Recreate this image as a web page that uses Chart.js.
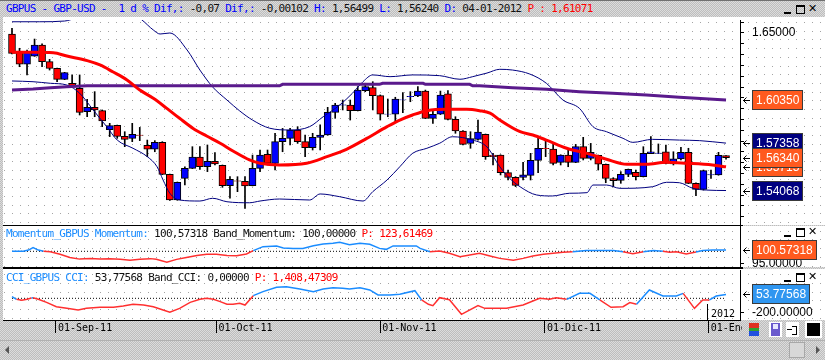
<!DOCTYPE html>
<html>
<head>
<meta charset="utf-8">
<title>GBPUS - GBP-USD</title>
<script src="https://cdn.jsdelivr.net/npm/chart.js@4.4.1/dist/chart.umd.min.js"></script>
<style>
  html, body { margin: 0; padding: 0; }
  body {
    width: 825px; height: 360px; position: relative; overflow: hidden;
    background: repeating-conic-gradient(#bdbdbd 0% 25%, #dcdcdc 0% 50%) 0 0 / 2px 2px;
    font-family: "DejaVu Sans Mono", monospace;
  }
  .abs { position: absolute; }
  canvas { position: absolute; left: 0; }
  .txt { position: absolute; left: 6px; white-space: pre; font-size: 11px; letter-spacing: -0.7px; line-height: 13px; }
  #titulo { left: 0; top: 0; width: 825px; height: 16px; border-top: 1px solid #707070; }
  .az { color: #0000ff; } .ng { color: #111; } .rj { color: #ff0000; }
  .az2 { color: #1a8cff; }
  .sep { position: absolute; left: 3px; width: 740px; background: #000; }
  .btns { position: absolute; left: 783px; width: 36px; height: 11px; }
  .btns i { position: absolute; font-style: normal; }
  .bmin { left: 1px; top: 7px; width: 7px; height: 2px; background: #000; }
  .bmax { left: 13px; top: 0px; width: 7px; height: 6px; border: 1px solid #000; border-top-width: 2px; }
  .bcer { left: 25px; top: -3px; font: 11px "DejaVu Sans", sans-serif; color: #000; }
  .gris { background: #c4c4c4; }
  #anio { left: 707px; top: 304px; height: 16px; border-left: 1px solid #000; font: 10px "DejaVu Sans Mono", monospace; line-height: 20px; padding-left: 3px; color: #000; }
  #iconos { left: 742px; top: 320px; width: 83px; height: 20px; background: repeating-conic-gradient(#bdbdbd 0% 25%, #dcdcdc 0% 50%) 0 0 / 2px 2px; }
  #iconos div { position: absolute; }
  #scroll { left: 0; top: 340px; width: 825px; height: 18px; border-top: 1px solid #b0b0b0; }
</style>
</head>
<body>

<div id="titulo" class="abs">
  <div class="txt" style="top:1px"><span class="az">GBPUS - GBP-USD -  1 d % Dif,:</span> <span class="ng">-0,07</span> <span class="az">Dif,:</span> <span class="ng">-0,00102</span> <span class="az">H:</span> <span class="ng">1,56499</span> <span class="az">L:</span> <span class="ng">1,56240</span> <span class="az">D:</span> <span class="ng">04-01-2012</span> <span class="rj">P : 1,61071</span></div>
  <div class="btns" style="top:4px"><i class="bmin"></i><i class="bmax"></i><i class="bcer">✕</i></div>
</div>

<canvas id="graficoPrecio" width="825" height="208" style="top:17px"></canvas>
<div class="sep" style="top:225px;height:1px"></div>
<canvas id="graficoMomentum" width="825" height="41" style="top:226px"></canvas>
<div class="sep" style="top:267px;height:2px"></div>
<canvas id="graficoCci" width="825" height="71" style="top:269px"></canvas>

<div class="txt" style="top:227px"><span class="az2">Momentum_GBPUS Momentum:</span> <span class="ng">100,57318 Band_Momentum: 100,00000</span> <span class="rj">P: 123,61469</span></div>
<div class="btns" style="top:228px"><i class="bmin"></i><i class="bmax"></i><i class="bcer">✕</i></div>
<div class="txt" style="top:271px"><span class="az2">CCI_GBPUS CCI:</span> <span class="ng">53,77568 Band_CCI: 0,00000</span> <span class="rj">P: 1,408,47309</span></div>
<div class="btns" style="top:273px"><i class="bmin"></i><i class="bmax"></i><i class="bcer">✕</i></div>
<div id="anio" class="abs">2012</div>

<div id="iconos" class="abs">
  <div style="left:7px;top:3px;width:10px;height:13px;background:linear-gradient(180deg,#e03020 0 35%,#30a030 35% 65%,#2050e0 65%)"></div>
  <div style="left:27px;top:2px;width:13px;height:15px;background:#fff"></div>
  <div style="left:29px;top:3px;width:9px;height:13px;background:#6a5acd"></div>
  <div style="left:31px;top:4px;width:5px;height:5px;background:#e8e8ff"></div>
  <div style="left:44px;top:2px;width:13px;height:15px;background:#fff"></div>
  <div style="left:45px;top:9px;width:5px;height:1px;background:#000"></div>
  <div style="left:50px;top:6px;width:4px;height:7px;border:1px solid #000;border-left:none"></div>
  <div style="left:63px;top:1px;width:17px;height:17px;background:#fff"></div>
  <div style="left:65px;top:3px;width:13px;height:13px;background:#000"></div>
</div>

<div id="scroll" class="abs">
  <div class="abs" style="left:5px;top:5px;width:0;height:0;border-top:4px solid transparent;border-bottom:4px solid transparent;border-right:4px solid #555"></div>
  <div class="abs" style="left:789px;top:1px;width:14px;height:14px;background:#d8d8d8;border:1px solid #a8a8a8"></div>
  <div class="abs" style="left:816px;top:5px;width:0;height:0;border-top:4px solid transparent;border-bottom:4px solid transparent;border-left:4px solid #555"></div>
</div>

<script>
// velas diarias GBP/USD, 24-ago-2011 .. 04-ene-2012
const apertura = [1.6493,1.6366,1.6283,1.6340,1.6417,1.6301,1.6255,1.6178,1.6151,1.6116,
  1.5954,1.5984,1.5961,1.5829,1.5859,1.5783,1.5769,1.5792,1.5720,1.5693,
  1.5741,1.5519,1.5341,1.5491,1.5561,1.5639,1.5572,1.5609,1.5582,1.5441,
  1.5474,1.5471,1.5441,1.5561,1.5658,1.5595,1.5746,1.5769,1.5827,1.5746,
  1.5704,1.5776,1.5792,1.5949,1.6000,1.6000,1.5961,1.6100,1.6121,1.6065,
  1.5936,1.5936,1.6035,1.6058,1.6063,1.6097,1.5908,1.5936,1.6077,1.5901,
  1.5820,1.5734,1.5762,1.5797,1.5653,1.5653,1.5531,1.5498,1.5498,1.5512,
  1.5616,1.5700,1.5695,1.5602,1.5653,1.5602,1.5711,1.5630,1.5651,1.5589,
  1.5489,1.5477,1.5519,1.5533,1.5503,1.5663,1.5665,1.5676,1.5591,1.5626,
  1.5672,1.5457,1.5415,1.5515,1.5515,1.5650];
const maximo = [1.6532,1.6394,1.6382,1.6458,1.6424,1.6317,1.6257,1.6227,1.6209,1.6209,
  1.6040,1.6093,1.5966,1.5873,1.5861,1.5815,1.5873,1.5845,1.5757,1.5753,
  1.5746,1.5521,1.5466,1.5572,1.5711,1.5711,1.5723,1.5670,1.5584,1.5503,
  1.5503,1.5503,1.5653,1.5688,1.5688,1.5804,1.5838,1.5838,1.5850,1.5792,
  1.5804,1.5862,1.5984,1.6012,1.6035,1.6035,1.6128,1.6151,1.6162,1.6070,
  1.6042,1.6054,1.6086,1.6093,1.6128,1.6104,1.5966,1.6097,1.6100,1.5919,
  1.5822,1.5815,1.5896,1.5799,1.5665,1.5655,1.5549,1.5503,1.5602,1.5665,
  1.5781,1.5757,1.5734,1.5655,1.5688,1.5727,1.5776,1.5734,1.5653,1.5591,
  1.5496,1.5538,1.5556,1.5549,1.5711,1.5781,1.5730,1.5723,1.5676,1.5707,
  1.5700,1.5461,1.5549,1.5549,1.5672,1.5650];
const minimo = [1.6354,1.6266,1.6209,1.6338,1.6266,1.6243,1.6162,1.6176,1.6126,1.5931,
  1.5919,1.5919,1.5850,1.5781,1.5769,1.5711,1.5746,1.5753,1.5642,1.5676,
  1.5517,1.5339,1.5339,1.5445,1.5559,1.5554,1.5538,1.5584,1.5429,1.5353,
  1.5399,1.5283,1.5439,1.5538,1.5584,1.5549,1.5676,1.5723,1.5734,1.5642,
  1.5688,1.5688,1.5790,1.5908,1.5966,1.5896,1.5959,1.6093,1.5966,1.5896,
  1.5919,1.5885,1.5947,1.6023,1.6058,1.5906,1.5873,1.5934,1.5896,1.5804,
  1.5723,1.5700,1.5757,1.5623,1.5584,1.5515,1.5480,1.5434,1.5480,1.5480,
  1.5531,1.5642,1.5584,1.5584,1.5572,1.5600,1.5619,1.5619,1.5549,1.5461,
  1.5434,1.5457,1.5503,1.5480,1.5501,1.5663,1.5663,1.5591,1.5584,1.5619,
  1.5455,1.5371,1.5410,1.5491,1.5513,1.5624];
const cierre = [1.6359,1.6283,1.6370,1.6417,1.6301,1.6255,1.6178,1.6225,1.6128,1.5949,
  1.5984,1.5966,1.5889,1.5857,1.5783,1.5762,1.5797,1.5790,1.5693,1.5741,
  1.5519,1.5341,1.5464,1.5561,1.5639,1.5572,1.5609,1.5591,1.5441,1.5485,
  1.5472,1.5438,1.5561,1.5653,1.5595,1.5746,1.5769,1.5827,1.5746,1.5704,
  1.5776,1.5792,1.5949,1.6000,1.6002,1.5961,1.6104,1.6128,1.6065,1.5936,
  1.5938,1.6042,1.6037,1.6060,1.6097,1.5908,1.5936,1.6070,1.5901,1.5820,
  1.5727,1.5767,1.5813,1.5642,1.5642,1.5531,1.5498,1.5443,1.5515,1.5616,
  1.5700,1.5698,1.5595,1.5653,1.5602,1.5711,1.5630,1.5672,1.5589,1.5491,
  1.5475,1.5519,1.5554,1.5503,1.5665,1.5676,1.5667,1.5595,1.5626,1.5672,
  1.5457,1.5415,1.5545,1.5517,1.5651,1.5634];

// indicadores: [vela, valor]
const mediaMovil = [[0,1.6366],[2.8,1.6366],[5.5,1.6363],[7.3,1.6340],[10,1.6308],[11.7,1.6278],
  [13.4,1.6231],[15.3,1.6174],[17,1.6104],[18.8,1.6047],[20.6,1.5977],[22.3,1.5908],[24.1,1.5838],
  [25.9,1.5785],[27.7,1.5735],[29.4,1.5681],[31.6,1.5619],[33,1.5596],[35.6,1.5584],[39.2,1.5596],
  [41.9,1.5642],[44.5,1.5693],[47.2,1.5769],[49.9,1.5850],[51.6,1.5896],[53.3,1.5931],[55.2,1.5961],
  [57.8,1.5971],[60.5,1.5971],[62.2,1.5961],[63.6,1.5944],[64.9,1.5896],[67.6,1.5815],[69.3,1.5792],
  [71.1,1.5757],[73.8,1.5700],[76.5,1.5665],[79.1,1.5624],[81.8,1.5589],[84.4,1.5589],[87.1,1.5603],
  [89.8,1.5596],[93.2,1.5584],[95,1.55715]];
const bandaSup = [[0,1.6578],[3.7,1.6578],[7,1.6583],[8.4,1.6604],[11.7,1.6694],[14.4,1.6694],
  [17.3,1.6590],[18.8,1.6521],[19.7,1.6493],[21,1.6500],[23.3,1.6382],[25,1.6243],[26.7,1.6125],
  [28.6,1.6035],[30.3,1.5959],[32,1.5896],[34.3,1.5839],[37,1.5827],[39.6,1.5850],[41.4,1.5919],
  [43.6,1.6000],[45.3,1.6082],[46.7,1.6162],[48,1.6209],[50.3,1.6197],[53.3,1.6209],[56.9,1.6204],
  [59.6,1.6179],[61.3,1.6197],[63.2,1.6222],[64.9,1.6248],[66.6,1.6243],[68.9,1.6215],[71.1,1.6151],
  [73.3,1.6035],[75.5,1.5977],[77.3,1.5850],[79.1,1.5815],[81.3,1.5769],[82.6,1.5741],[85.2,1.5762],
  [88.8,1.5757],[91.5,1.5753],[95,1.57358]];
const bandaInf = [[0,1.6167],[2.8,1.6162],[5.1,1.6151],[7.3,1.6139],[9,1.6082],[10.8,1.5966],
  [12.6,1.5850],[14,1.5757],[16.1,1.5700],[18,1.5642],[19.3,1.5572],[20.1,1.5480],[21,1.5388],
  [22.3,1.5341],[25,1.5334],[26.7,1.5353],[28.6,1.5329],[31.6,1.5322],[33,1.5334],[35.6,1.5348],
  [39.6,1.5341],[41,1.5383],[43.6,1.5364],[46.7,1.5334],[48,1.5399],[49.9,1.5480],[51.6,1.5572],
  [53.3,1.5665],[55.2,1.5700],[56.9,1.5735],[58.6,1.5780],[61.3,1.5757],[63.2,1.5709],[64.9,1.5572],
  [66.2,1.5492],[67.6,1.5433],[69.8,1.5376],[71.9,1.5369],[74.2,1.5388],[76.5,1.5392],[77.3,1.5445],
  [79.1,1.5445],[80.9,1.5422],[85.2,1.5433],[87.1,1.5464],[88.8,1.5461],[90.6,1.5422],[92.4,1.5410],
  [95,1.54068]];
const mediaLarga = [[0,1.6104],[2.8,1.6111],[5.1,1.6120],[7.3,1.6127],[10,1.6134],[35.6,1.6134],
  [36,1.6144],[48.9,1.6144],[49.3,1.6151],[54.7,1.6151],[55,1.6144],[60.9,1.6144],[61.3,1.6134],
  [62.2,1.6134],[66.6,1.6120],[71.1,1.6109],[75.5,1.6093],[79.9,1.6082],[84.4,1.6070],[88.8,1.6054],
  [95,1.6035]];

const momentum = [[0,100],[1.5,100],[2.2,100.5],[2.8,101.5],[3.5,100.5],[4.2,100],[5.1,99.85],
  [6.4,98.8],[7.7,97.5],[9,96.8],[10.4,97.1],[11.7,96.8],[13,97.0],[14.4,96.7],[15.7,96.3],[17,96.7],
  [18.4,97.0],[19.2,96.7],[20.6,95.5],[21.9,96.7],[23.2,97.5],[24.6,98.3],[25.9,98.8],[27.2,98.8],
  [28.6,98.3],[29.9,98.2],[31.2,98.9],[32.1,100.3],[33.4,101.9],[35.2,102.2],[36.1,101.4],[37.4,101.2],
  [38.7,101.2],[40.1,102.3],[41.4,103.0],[42.7,103.3],[43.6,103.7],[44.9,102.7],[46.3,103.3],
  [47.6,102.9],[48.9,101.2],[49.8,100.8],[50.7,102.2],[53.8,102.2],[54.3,101.2],[55.6,99.85],
  [56.9,100.1],[58.2,99.2],[59.6,97.8],[60.9,98.5],[62.2,99.2],[63.6,98.1],[64.9,97.1],[66.7,96.3],
  [68,97.1],[69.3,98.1],[70.7,98.8],[72,99.2],[73.3,99.6],[74.6,99.85],[76.4,100.3],[78.2,100.3],
  [80,100.3],[81.3,99.85],[82.6,99.0],[84,99.85],[85.3,100.3],[86.6,100.0],[87.5,99.6],[88.4,99.85],
  [89.7,98.9],[91,99.7],[91.9,100.3],[93.2,100.5],[95,100.57318]];
const bandaMomentum = [[0,100],[95,100]];

const cci = [[0,23],[0.6,-14],[1.3,-28],[2,-14],[2.6,5],[2.8,9],[3.5,-14],[4.6,-56],[5.9,-116],
  [7.3,-139],[8.8,-162],[9.9,-139],[11.7,-125],[13.5,-125],[14.8,-106],[16.1,-83],[17.5,-93],
  [18.8,-116],[20.1,-162],[21,-194],[22.3,-139],[23.7,-56],[25,-14],[25.9,0],[26.8,-14],[27.7,-46],
  [28.6,-83],[29.4,-83],[30.3,-69],[31,-93],[32.1,37],[33.4,93],[35.2,153],[36.5,162],[38.3,130],
  [40.1,93],[41.4,130],[42.7,148],[44,139],[44.9,130],[46.3,148],[47.6,116],[48.7,46],[50.3,46],
  [51.6,56],[53.6,106],[54.5,-23],[55.4,-83],[56,-102],[56.9,9],[58.2,-19],[59.8,-222],[62,-102],
  [62.9,-139],[65.8,-139],[68,-93],[70.2,0],[71.5,-14],[72.4,9],[73.8,-14],[75.5,69],[76.9,69],
  [78.2,-23],[79.7,-125],[81.3,-116],[82.2,-60],[83.1,-83],[84.8,116],[86.6,32],[88.4,32],[89.3,69],
  [90.8,-139],[91.9,-23],[92.8,-23],[93.7,32],[95,53.77568]];
const bandaCci = [[0,0],[95,0]];

// eje x y ejes de valores
const mesesIdx = [5.85, 27.2, 49.0, 70.9, 92.7];
const mesesTxt = ['01-Sep-11', '01-Oct-11', '01-Nov-11', '01-Dic-11', '01-Ene-12'];
const marcasPrecio = [1.6575, 1.6500, 1.6425, 1.6350, 1.6275, 1.6200, 1.6125, 1.6050, 1.5975, 1.5900,
  1.5825, 1.5750, 1.5675, 1.5600, 1.5525, 1.5450, 1.5375, 1.5300, 1.5225];
const marcasMomentum = [95];
const marcasCci = [-200];

// geometria
const PX_VELA = 7.516, X_VELA0 = 12, X_IZQ = 3, X_DER = 740;
const xMin = (X_IZQ - X_VELA0) / PX_VELA;
const xMax = (X_DER - X_VELA0) / PX_VELA;
const AZUL = '#1a8cff', ROJO = '#ff3030';

Chart.defaults.font.family = '"Liberation Sans", Arial, sans-serif';
Chart.defaults.animation = false;

const aPuntos = par => par.map(p => ({ x: p[0], y: p[1] }));

// fondo blanco punteado
const fondo = {
  id: 'fondo',
  beforeDraw(chart, args, opts) {
    const ctx = chart.ctx;
    const alto = opts.hasta || chart.height;
    ctx.save();
    ctx.fillStyle = '#fff';
    ctx.fillRect(X_IZQ, 0, chart.width - X_IZQ, alto);
    ctx.fillStyle = '#a4a4a4';
    for (let m = 0; m < 50; m++) {
      const y = Math.round(22 + m * 8.7) - opts.top;
      if (y < 0 || y >= alto) continue;
      for (let x = 4; x < chart.width; x += 8) ctx.fillRect(x, y, 1, 1);
    }
    ctx.restore();
  }
};

// cajas de valor en el eje derecho
const etiquetasEje = {
  id: 'etiquetasEje',
  afterDraw(chart, args, opts) {
    const ctx = chart.ctx, escala = chart.scales.y;
    ctx.save();
    ctx.font = '12px "Liberation Sans", Arial, sans-serif';
    ctx.textBaseline = 'middle';
    opts.items.forEach(function (it) {
      const py = Math.round(escala.getPixelForValue(it.valor));
      const w = Math.round(ctx.measureText(it.texto).width) + 8;
      ctx.fillStyle = it.fondo;
      ctx.fillRect(752, py - 10, w, 20);
      ctx.strokeStyle = '#3a3a3a';
      ctx.lineWidth = 1;
      ctx.strokeRect(752.5, py - 9.5, w - 1, 19);
      ctx.fillStyle = it.tinta;
      ctx.fillText(it.texto, 756, py + 1);
      ctx.strokeStyle = '#000';
      ctx.beginPath();
      ctx.moveTo(743, py + 0.5); ctx.lineTo(750, py + 0.5);
      ctx.moveTo(746.5, py - 2.5); ctx.lineTo(743.5, py + 0.5); ctx.lineTo(746.5, py + 3.5);
      ctx.stroke();
    });
    ctx.restore();
  }
};

function ejeY(min, max, marcas, etiqueta) {
  return {
    position: 'right', min: min, max: max,
    afterFit: function (s) { s.width = 825 - X_DER; s.paddingTop = 0; s.paddingBottom = 0; },
    afterBuildTicks: function (s) { s.ticks = marcas.map(v => ({ value: v })); },
    ticks: { callback: etiqueta, color: '#000', font: { size: 12 }, padding: 8, autoSkip: false },
    grid: { drawOnChartArea: false, tickLength: 4, color: '#000' },
    border: { color: '#000' }
  };
}

function ejeXOculto() {
  return { type: 'linear', min: xMin, max: xMax, offset: false, display: false };
}

const ultimo = arr => arr[arr.length - 1][1];

// 1. Precio: velas + Bollinger + medias
const colores = apertura.map((o, i) => cierre[i] >= o ? '#0000ff' : '#ff0000');
new Chart(document.getElementById('graficoPrecio'), {
  type: 'bar',
  data: {
    datasets: [
      { type: 'line', data: aPuntos(mediaMovil), borderColor: '#ff0000', borderWidth: 3,
        pointRadius: 0, cubicInterpolationMode: 'monotone', order: 1 },
      { type: 'line', data: aPuntos(mediaLarga), borderColor: '#5a1a8c', borderWidth: 3,
        pointRadius: 0, order: 1 },
      { type: 'line', data: aPuntos(bandaSup), borderColor: '#000080', borderWidth: 1,
        pointRadius: 0, cubicInterpolationMode: 'monotone', order: 1 },
      { type: 'line', data: aPuntos(bandaInf), borderColor: '#000080', borderWidth: 1,
        pointRadius: 0, cubicInterpolationMode: 'monotone', order: 1 },
      { type: 'bar', data: apertura.map((o, i) => ({ x: i, y: [o, cierre[i]] })),
        backgroundColor: colores, borderColor: '#000', borderWidth: 1, borderSkipped: false,
        barThickness: 7, grouped: false, order: 2 },
      { type: 'bar', data: apertura.map((o, i) => ({ x: i, y: [minimo[i], maximo[i]] })),
        backgroundColor: '#000', borderWidth: 0, barThickness: 1, grouped: false, order: 3 }
    ]
  },
  options: {
    responsive: false,
    layout: { autoPadding: false, padding: { left: X_IZQ, top: 3, right: 0, bottom: 0 } },
    plugins: {
      legend: { display: false }, tooltip: { enabled: false },
      fondo: { top: 17 },
      etiquetasEje: { items: [
        { valor: ultimo(bandaSup), texto: ultimo(bandaSup).toFixed(5), fondo: '#000080', tinta: '#fff' },
        { valor: ultimo(mediaMovil), texto: ultimo(mediaMovil).toFixed(5), fondo: '#ff5a1f', tinta: '#fff' },
        { valor: ultimo(bandaInf), texto: ultimo(bandaInf).toFixed(5), fondo: '#000080', tinta: '#fff' },
        { valor: ultimo(mediaLarga), texto: ultimo(mediaLarga).toFixed(5), fondo: '#ff5a1f', tinta: '#fff' },
        { valor: cierre[cierre.length - 1], texto: cierre[cierre.length - 1].toFixed(5), fondo: '#ff5a1f', tinta: '#fff' }
      ] }
    },
    scales: {
      x: ejeXOculto(),
      y: ejeY(1.51676, 1.65902, marcasPrecio, v => Math.abs(v - 1.65) < 1e-9 ? '1.65000' : '')
    }
  },
  plugins: [fondo, etiquetasEje]
});

// 2. Momentum
new Chart(document.getElementById('graficoMomentum'), {
  type: 'line',
  data: {
    datasets: [
      { data: aPuntos(momentum), borderWidth: 1.5, pointRadius: 0,
        segment: { borderColor: c => (c.p0.parsed.y + c.p1.parsed.y) / 2 >= 100 ? AZUL : ROJO } },
      { data: aPuntos(bandaMomentum), borderColor: '#000', borderWidth: 1, borderDash: [1, 2], pointRadius: 0 }
    ]
  },
  options: {
    responsive: false,
    layout: { autoPadding: false, padding: { left: X_IZQ, top: 0, right: 0, bottom: 0 } },
    plugins: {
      legend: { display: false }, tooltip: { enabled: false },
      fondo: { top: 226 },
      etiquetasEje: { items: [
        { valor: ultimo(momentum), texto: ultimo(momentum).toFixed(5), fondo: '#ff5a1f', tinta: '#fff' }
      ] }
    },
    scales: {
      x: ejeXOculto(),
      y: ejeY(93.57, 110.37, marcasMomentum, v => v.toFixed(5))
    }
  },
  plugins: [fondo, etiquetasEje]
});

// 3. CCI con el eje de fechas
new Chart(document.getElementById('graficoCci'), {
  type: 'line',
  data: {
    datasets: [
      { data: aPuntos(cci), borderWidth: 1.5, pointRadius: 0,
        segment: { borderColor: c => (c.p0.parsed.y + c.p1.parsed.y) / 2 >= 0 ? AZUL : ROJO } },
      { data: aPuntos(bandaCci), borderColor: '#000', borderWidth: 1, borderDash: [1, 2], pointRadius: 0 }
    ]
  },
  options: {
    responsive: false,
    layout: { autoPadding: false, padding: { left: X_IZQ, top: 1, right: 0, bottom: 0 } },
    plugins: {
      legend: { display: false }, tooltip: { enabled: false },
      fondo: { top: 269, hasta: 51 },
      etiquetasEje: { items: [
        { valor: ultimo(cci), texto: ultimo(cci).toFixed(5), fondo: '#2f96f0', tinta: '#fff' }
      ] }
    },
    scales: {
      x: {
        type: 'linear', min: xMin, max: xMax, offset: false,
        afterBuildTicks: function (s) { s.ticks = mesesIdx.map(v => ({ value: v })); },
        afterFit: function (s) { s.height = 20; s.paddingLeft = 0; s.paddingRight = 0; },
        ticks: { callback: (v, i) => mesesTxt[i], align: 'start', labelOffset: 2, padding: -11,
                 color: '#000', font: { family: '"DejaVu Sans Mono", monospace', size: 10 },
                 autoSkip: false, maxRotation: 0 },
        grid: { drawOnChartArea: false, tickLength: 13, color: '#000' },
        border: { color: '#000' }
      },
      y: ejeY(-301, 393, marcasCci, v => v.toFixed(5))
    }
  },
  plugins: [fondo, etiquetasEje]
});
</script>
</body>
</html>
